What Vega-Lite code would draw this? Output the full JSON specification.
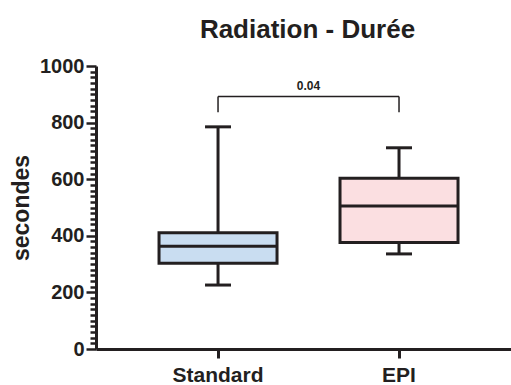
{
  "$schema": "https://vega.github.io/schema/vega-lite/v6.json",
  "autosize": {"type": "none"},
  "padding": {"left": 96, "top": 66, "right": 0, "bottom": 36},
  "width": 415,
  "height": 283,
  "config": {
    "font": "Liberation Sans",
    "view": {"stroke": null}
  },
  "title": {
    "text": "Radiation - Durée",
    "fontSize": 26,
    "fontWeight": "bold",
    "color": "#231f20",
    "anchor": "middle",
    "frame": "group",
    "dx": 4,
    "offset": 13
  },
  "datasets": {
    "boxes": [
      {"group": "Standard", "min": 226, "q1": 303, "median": 363, "q3": 411, "max": 785},
      {"group": "EPI", "min": 336, "q1": 376, "median": 505, "q3": 603, "max": 711}
    ],
    "sig": [
      {"from": "Standard", "to": "EPI", "label": "0.04", "level": 892, "leg": 837}
    ]
  },
  "resolve": {"axis": {"y": "independent"}},
  "encoding": {
    "x": {
      "field": "group",
      "type": "nominal",
      "sort": ["Standard", "EPI"],
      "scale": {"domain": ["Standard", "EPI"], "paddingInner": 0.5, "paddingOuter": 0.3965, "align": 0.535},
      "axis": {
        "title": null,
        "labelAngle": 0,
        "labelFontSize": 21,
        "labelFontWeight": "bold",
        "labelColor": "#231f20",
        "labelPadding": 6,
        "domainColor": "#231f20",
        "domainWidth": 3,
        "tickColor": "#231f20",
        "tickWidth": 3,
        "tickSize": 9,
        "bandPosition": 0.5
      }
    }
  },
  "layer": [
    {
      "data": {"name": "boxes"},
      "mark": {"type": "rule", "color": "#231f20", "strokeWidth": 3},
      "encoding": {
        "y": {
          "field": "min",
          "type": "quantitative",
          "scale": {"domain": [0, 1000], "nice": false},
          "axis": {
            "orient": "left",
            "title": "secondes",
            "titleFontSize": 23,
            "titleFontWeight": "bold",
            "titleColor": "#231f20",
            "titlePadding": 6,
            "values": [0, 200, 400, 600, 800, 1000],
            "format": "d",
            "labelFontSize": 20,
            "labelFontWeight": "bold",
            "labelColor": "#231f20",
            "labelPadding": 2,
            "labelOverlap": false,
            "labelFlush": false,
            "grid": false,
            "domainColor": "#231f20",
            "domainWidth": 3,
            "tickColor": "#231f20",
            "tickWidth": 2.5,
            "tickSize": 10
          }
        },
        "y2": {"field": "max"}
      }
    },
    {
      "data": {"name": "boxes"},
      "mark": {"type": "bar", "size": 118, "stroke": "#231f20", "strokeWidth": 3},
      "encoding": {
        "y": {
          "field": "q1",
          "type": "quantitative",
          "axis": {
            "orient": "left",
            "title": null,
            "labels": false,
            "domain": false,
            "grid": false,
            "values": [20,40,60,80,100,120,140,160,180,220,240,260,280,300,320,340,360,380,420,440,460,480,500,520,540,560,580,620,640,660,680,700,720,740,760,780,820,840,860,880,900,920,940,960,980],
            "tickColor": "#231f20",
            "tickWidth": 2.5,
            "tickSize": 6
          }
        },
        "y2": {"field": "q3"},
        "color": {
          "field": "group",
          "type": "nominal",
          "scale": {"domain": ["Standard", "EPI"], "range": ["#c9ddf1", "#fbdfe1"]},
          "legend": null
        }
      }
    },
    {
      "data": {"name": "boxes"},
      "mark": {"type": "tick", "size": 118, "thickness": 3, "color": "#231f20", "opacity": 1},
      "encoding": {"y": {"field": "median", "type": "quantitative", "axis": null}}
    },
    {
      "data": {"name": "boxes"},
      "mark": {"type": "tick", "size": 26, "thickness": 3, "color": "#231f20", "opacity": 1},
      "encoding": {"y": {"field": "min", "type": "quantitative", "axis": null}}
    },
    {
      "data": {"name": "boxes"},
      "mark": {"type": "tick", "size": 26, "thickness": 3, "color": "#231f20", "opacity": 1},
      "encoding": {"y": {"field": "max", "type": "quantitative", "axis": null}}
    },
    {
      "data": {"name": "sig"},
      "mark": {"type": "rule", "color": "#231f20", "strokeWidth": 1.5},
      "encoding": {
        "x": {"field": "from", "type": "nominal"},
        "x2": {"field": "to"},
        "y": {"field": "level", "type": "quantitative", "axis": null}
      }
    },
    {
      "data": {"name": "sig"},
      "mark": {"type": "rule", "color": "#231f20", "strokeWidth": 1.5},
      "encoding": {
        "x": {"field": "from", "type": "nominal"},
        "y": {"field": "leg", "type": "quantitative", "axis": null},
        "y2": {"field": "level"}
      }
    },
    {
      "data": {"name": "sig"},
      "mark": {"type": "rule", "color": "#231f20", "strokeWidth": 1.5},
      "encoding": {
        "x": {"field": "to", "type": "nominal"},
        "y": {"field": "leg", "type": "quantitative", "axis": null},
        "y2": {"field": "level"}
      }
    },
    {
      "data": {"name": "sig"},
      "mark": {"type": "text", "fontSize": 12, "fontWeight": "bold", "color": "#231f20", "dx": 90.5, "dy": -4, "baseline": "bottom", "align": "center"},
      "encoding": {
        "x": {"field": "from", "type": "nominal"},
        "y": {"field": "level", "type": "quantitative", "axis": null},
        "text": {"field": "label"}
      }
    }
  ]
}
